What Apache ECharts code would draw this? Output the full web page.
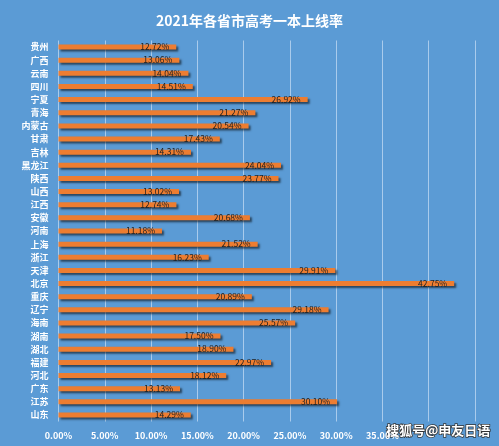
<!DOCTYPE html>
<html><head><meta charset="utf-8">
<script src="https://cdn.jsdelivr.net/npm/echarts@6/dist/echarts.min.js"></script>
<style>html,body{margin:0;padding:0;background:#5b9bd5}#c{width:499px;height:446px}</style>
</head><body><div id="c"></div>
<script>
const categories = ['贵州','广西','云南','四川','宁夏','青海','内蒙古','甘肃','吉林','黑龙江','陕西','山西','江西','安徽','河南','上海','浙江','天津','北京','重庆','辽宁','海南','湖南','湖北','福建','河北','广东','江苏','山东'];
const rates = [12.72,13.06,14.04,14.51,26.92,21.27,20.54,17.43,14.31,24.04,23.77,13.02,12.74,20.68,11.18,21.52,16.23,29.91,42.75,20.89,29.18,25.57,17.50,18.90,22.97,18.12,13.13,30.10,14.29];
const titleText = '2021年各省市高考一本上线率';
const watermark = '搜狐号@申友日语';

const chart = echarts.init(document.getElementById('c'));
chart.setOption({
  backgroundColor: '#5b9bd5',
  animation: false,
  title: {
    text: titleText, left: 'center', top: 9,
    textStyle: {color: '#ffffff', fontSize: 14, fontWeight: 'bold', fontFamily: 'Noto Sans CJK SC'}
  },
  grid: {left: 58.5, right: 24, top: 40.5, bottom: 24.5, containLabel: false},
  xAxis: {
    type: 'value', min: 0, max: 45, interval: 5,
    axisLine: {show: false}, axisTick: {show: false},
    splitLine: {lineStyle: {color: '#a9cbec', width: 1}},
    axisLabel: {color: '#ffffff', fontWeight: 'bold', fontSize: 9, fontFamily: 'Noto Sans CJK SC', margin: 10,
      formatter: v => v >= 40 ? '' : v.toFixed(2) + '%'}
  },
  yAxis: {
    type: 'category', data: categories, inverse: true,
    axisLine: {show: false}, axisTick: {show: false},
    axisLabel: {color: '#ffffff', fontWeight: 'bold', fontSize: 9, fontFamily: 'Noto Sans CJK SC', margin: 10}
  },
  series: [{
    type: 'bar', data: rates, barWidth: 5,
    itemStyle: {color: '#ed7d31', shadowColor: 'rgba(0,0,0,0.55)', shadowBlur: 2, shadowOffsetX: 2, shadowOffsetY: 2},
    label: {show: true, position: 'insideRight', offset: [-2, 0], color: '#222222', fontSize: 8.5, fontFamily: 'Noto Sans CJK SC',
      formatter: p => p.value.toFixed(2) + '%'}
  }],
  graphic: [{
    type: 'text', right: 8, top: 423,
    style: {text: watermark, fill: '#ffffff', stroke: '#333333', lineWidth: 1.5, fontSize: 13, fontWeight: 'bold', fontFamily: 'Noto Sans CJK SC'}
  }]
});
</script></body></html>
